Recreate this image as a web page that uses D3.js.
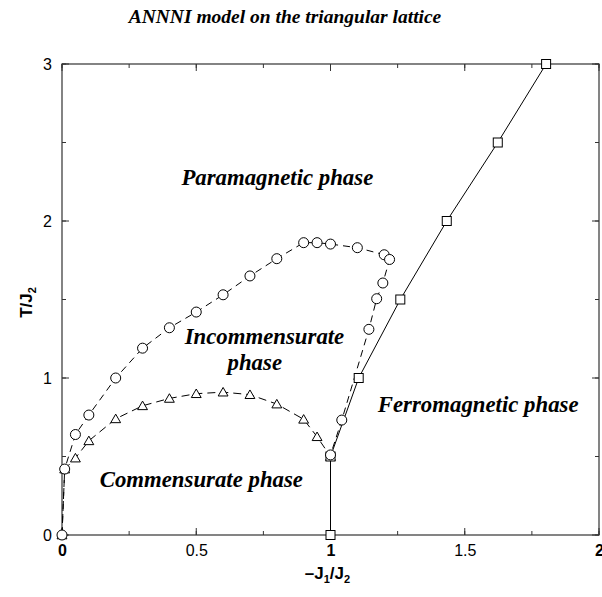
<!DOCTYPE html>
<html>
<head>
<meta charset="utf-8">
<script src="https://cdn.jsdelivr.net/npm/d3@7"></script>
<style>
  html, body { margin: 0; padding: 0; background: #fff; }
  svg { display: block; }
  .tick text { font-family: "Liberation Sans", Arial, sans-serif; font-size: 16px; fill: #000; }
</style>
</head>
<body>
<svg id="chart" width="602" height="597"></svg>
<script>
// Phase boundaries of the ANNNI model on the triangular lattice
const ferroX = [1.0, 1.0, 1.105, 1.26, 1.433, 1.623, 1.803];
const ferroT = [0.0, 0.5, 1.0, 1.5, 2.0, 2.5, 3.0];

const paraX = [0.0, 0.01, 0.05, 0.1, 0.2, 0.3, 0.4, 0.5, 0.6, 0.7, 0.8, 0.9, 0.95, 1.0, 1.1, 1.2, 1.22, 1.195, 1.172, 1.143, 1.042, 1.0];
const paraT = [0.0, 0.42, 0.64, 0.764, 1.0, 1.19, 1.32, 1.42, 1.53, 1.65, 1.76, 1.862, 1.862, 1.853, 1.83, 1.785, 1.755, 1.605, 1.505, 1.31, 0.732, 0.51];

const commX = [0.0, 0.01, 0.05, 0.1, 0.2, 0.3, 0.4, 0.5, 0.6, 0.7, 0.8, 0.9, 0.95, 1.0];
const commT = [0.0, 0.42, 0.49, 0.6, 0.74, 0.823, 0.87, 0.9, 0.91, 0.894, 0.834, 0.737, 0.626, 0.5];

const xTicks = [0, 0.5, 1, 1.5, 2];
const xTickLabels = ["0", "0.5", "1", "1.5", "2"];
const yTicks = [0, 1, 2, 3];
const yTickLabels = ["0", "1", "2", "3"];

// Region names, anchored in data coordinates (one entry per text line)
const phaseText = ["Paramagnetic phase", "Incommensurate", "phase", "Ferromagnetic phase", "Commensurate phase"];
const phaseX = [0.802, 0.754, 0.718, 1.55, 0.519];
const phaseT = [2.229, 1.217, 1.051, 0.783, 0.306];

const svg = d3.select("#chart");
const margin = { left: 62, right: 3, top: 64, bottom: 62 };
const W = 602, H = 597;

const x = d3.scaleLinear().domain([0, 2]).range([margin.left, W - margin.right]);
const y = d3.scaleLinear().domain([0, 3]).range([H - margin.bottom, margin.top]);

const serif = '"Liberation Serif", "Times New Roman", serif';
const sans = '"Liberation Sans", Arial, sans-serif';

// Title
svg.append("text")
  .attr("x", 285).attr("y", 23)
  .attr("text-anchor", "middle")
  .style("font-family", serif).style("font-weight", "bold").style("font-style", "italic")
  .style("font-size", "19.5px")
  .text("ANNNI model on the triangular lattice");

// Frame with inward ticks on all four sides
const xMinor = d3.range(0, 2.001, 0.25);
const yMinor = d3.range(0, 3.001, 0.5);

function tickSet(g, values, len, horiz, pos) {
  g.selectAll(null).data(values).enter().append("line")
    .attr("x1", d => horiz ? x(d) : pos)
    .attr("x2", d => horiz ? x(d) : pos + len)
    .attr("y1", d => horiz ? pos : y(d))
    .attr("y2", d => horiz ? pos + len : y(d))
    .attr("stroke", "#333").attr("stroke-width", 1);
}

const frame = svg.append("g");
frame.append("rect")
  .attr("x", x(0)).attr("y", y(3))
  .attr("width", x(2) - x(0)).attr("height", y(0) - y(3))
  .attr("fill", "none").attr("stroke", "#333").attr("stroke-width", 1.2);

tickSet(frame, xMinor, -4, true, y(0));
tickSet(frame, xTicks, -7, true, y(0));
tickSet(frame, xMinor, 4, true, y(3));
tickSet(frame, xTicks, 7, true, y(3));
tickSet(frame, yMinor, 4, false, x(0));
tickSet(frame, yTicks, 7, false, x(0));
tickSet(frame, yMinor, -4, false, x(2));
tickSet(frame, yTicks, -7, false, x(2));

// Tick labels through d3 axes (tick lines hidden, frame carries them)
const xAxis = d3.axisBottom(x).tickValues(xTicks)
  .tickFormat((d, i) => xTickLabels[i]).tickSize(0).tickPadding(10);
const gx = svg.append("g").attr("transform", `translate(0,${y(0)})`).call(xAxis);
gx.select(".domain").remove();
gx.selectAll(".tick text")
  .style("font-weight", (d, i) => (xTickLabels[i].indexOf(".") < 0) ? "bold" : "normal");

const yAxis = d3.axisLeft(y).tickValues(yTicks)
  .tickFormat((d, i) => yTickLabels[i]).tickSize(0).tickPadding(10);
const gy = svg.append("g").attr("transform", `translate(${x(0)},0)`).call(yAxis);
gy.select(".domain").remove();

// Axis titles
const xt = svg.append("text")
  .attr("x", x(1) - 3).attr("y", 579)
  .attr("text-anchor", "middle")
  .style("font-family", sans).style("font-weight", "bold").style("font-size", "17px");
xt.append("tspan").text("\u2013J");
xt.append("tspan").attr("dy", 4).style("font-size", "11px").text("1");
xt.append("tspan").attr("dy", -4).text("/J");
xt.append("tspan").attr("dy", 4).style("font-size", "11px").text("2");

const yt = svg.append("text")
  .attr("transform", `translate(32,${y(1.5) + 3}) rotate(-90)`)
  .attr("text-anchor", "middle")
  .style("font-family", sans).style("font-weight", "bold").style("font-size", "17px");
yt.append("tspan").text("T/J");
yt.append("tspan").attr("dy", 4).style("font-size", "11px").text("2");

// Curves
const plot = svg.append("g");
const line = d3.line().x(d => x(d[0])).y(d => y(d[1]));
const zip = (a, b) => a.map((v, i) => [v, b[i]]);

const ferro = zip(ferroX, ferroT);
const para = zip(paraX, paraT);
const comm = zip(commX, commT);

plot.append("path").datum(comm).attr("d", line)
  .attr("fill", "none").attr("stroke", "#000").attr("stroke-width", 1)
  .attr("stroke-dasharray", "8,5");
plot.append("path").datum(para).attr("d", line)
  .attr("fill", "none").attr("stroke", "#000").attr("stroke-width", 1)
  .attr("stroke-dasharray", "7,5");
plot.append("path").datum(ferro).attr("d", line)
  .attr("fill", "none").attr("stroke", "#000").attr("stroke-width", 1);

// Markers
const triSym = d3.symbol().type(d3.symbolTriangle).size(42);
plot.selectAll(".tri").data(comm).enter().append("path")
  .attr("class", "tri")
  .attr("transform", d => `translate(${x(d[0])},${y(d[1]) + 1})`)
  .attr("d", triSym)
  .attr("fill", "#fff").attr("stroke", "#000").attr("stroke-width", 1);

plot.selectAll(".sq").data(ferro).enter().append("rect")
  .attr("class", "sq")
  .attr("x", d => x(d[0]) - 4.5).attr("y", d => y(d[1]) - 4.5)
  .attr("width", 9).attr("height", 9)
  .attr("fill", "#fff").attr("stroke", "#000").attr("stroke-width", 1);

plot.selectAll(".circ").data(para).enter().append("circle")
  .attr("class", "circ")
  .attr("cx", d => x(d[0])).attr("cy", d => y(d[1])).attr("r", 5)
  .attr("fill", "#fff").attr("stroke", "#000").attr("stroke-width", 1);

// Phase region labels
svg.selectAll(".phase").data(phaseText).enter().append("text")
  .attr("class", "phase")
  .attr("x", (d, i) => x(phaseX[i])).attr("y", (d, i) => y(phaseT[i]))
  .attr("text-anchor", "middle")
  .style("font-family", serif).style("font-weight", "bold").style("font-style", "italic")
  .style("font-size", "22.8px")
  .text(d => d);
</script>
</body>
</html>
